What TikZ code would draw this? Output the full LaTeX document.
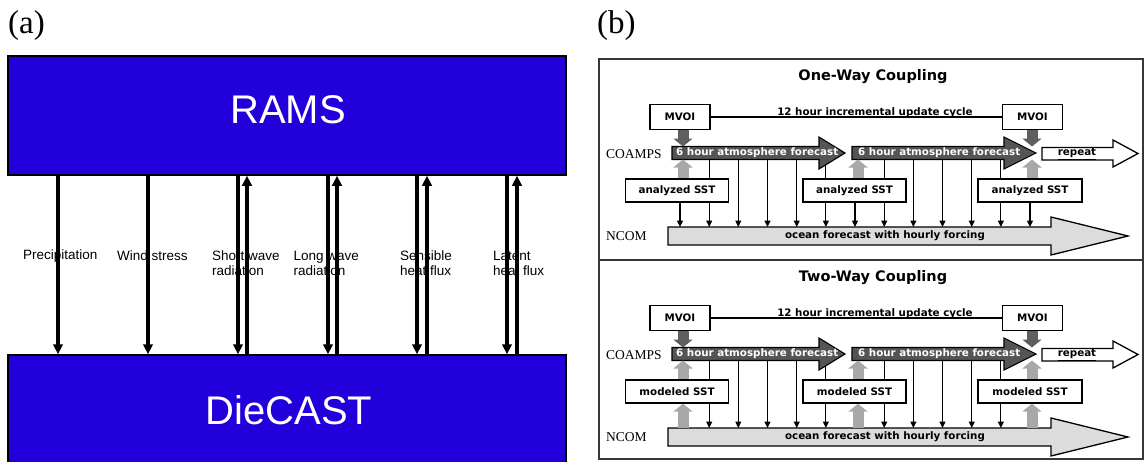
\documentclass[tikz,border=0pt]{standalone}
\usepackage{fontspec}
\setmainfont{Liberation Serif}
\newfontfamily\arialf{Liberation Sans}
\newfontfamily\verdf{DejaVu Sans}
\usetikzlibrary{arrows.meta}
\pgfdeclarelayer{bg}
\pgfsetlayers{bg,main}
\definecolor{ramsblue}{RGB}{34,0,220}
\definecolor{fcdark}{RGB}{85,85,85}
\definecolor{mvoidark}{RGB}{95,95,95}
\definecolor{sstlight}{RGB}{168,168,168}
\definecolor{ncomfill}{RGB}{220,220,220}
\definecolor{framegray}{RGB}{55,55,55}
\tikzset{
  bigbox/.style={draw=black, line width=1.5pt, fill=ramsblue, inner sep=0},
  bigtext/.style={text=white, font=\arialf\fontsize{40}{48}\selectfont, inner sep=0},
  fluxlbl/.style={font=\arialf\fontsize{13.5}{15}\selectfont, align=left, anchor=west, inner sep=0},
  flux/.style={line width=3.2pt, -{Triangle[length=10pt,width=9.5pt]}},
  panellbl/.style={font=\fontsize{33}{38}\selectfont, anchor=base west, inner sep=0},
  frame/.style={draw=framegray, line width=1.6pt},
  ctitle/.style={font=\verdf\bfseries\fontsize{14.5}{17}\selectfont, inner sep=0},
  wbox/.style={draw=black, line width=1.3pt, fill=white, font=\verdf\bfseries\fontsize{10.3}{12}\selectfont, inner sep=0},
  btext/.style={font=\verdf\bfseries\fontsize{10.3}{12}\selectfont, inner sep=0},
  side/.style={font=\fontsize{13.5}{16}\selectfont, anchor=west, inner sep=0},
  fcarrow/.style={draw=black, line width=1.1pt, fill=fcdark, line join=miter},
  ncarrow/.style={draw=black, line width=1.3pt, fill=ncomfill, line join=miter},
  reparrow/.style={draw=black, line width=1.3pt, fill=white, line join=miter},
  thinarrow/.style={line width=1.1pt, -{Triangle[length=6.5pt,width=6pt]}},
  thinline/.style={line width=1.1pt},
  mvarrow/.style={draw=mvoidark, line width=11pt, -{Triangle[length=8pt,width=19pt]}},
  sstarrow/.style={draw=sstlight, line width=11pt, -{Triangle[length=8pt,width=19pt]}},
}
\newcommand\cpanel[5]{%
\begin{scope}[shift={(0,#1)}]
  \coordinate (#2fctop) at (0,146.5);
  \coordinate (#2fcbot) at (0,159.5);
  \coordinate (#2nctop) at (0,227);
  \node[ctitle] (#2title) at (873,77) {#3};
  % forecast arrows
  \draw[fcarrow] (672,146.5) -- (819,146.5) -- (819,137) -- (845,153) -- (819,169) -- (819,159.5) -- (672,159.5) -- cycle;
  \draw[fcarrow] (852,146.5) -- (1004,146.5) -- (1004,137) -- (1036,153) -- (1004,169) -- (1004,159.5) -- (852,159.5) -- cycle;
  \draw[reparrow] (1042,147.5) -- (1113,147.5) -- (1113,140) -- (1138,153.5) -- (1113,167) -- (1113,160) -- (1042,160) -- cycle;
  \draw[ncarrow] (668,227) -- (1051,227) -- (1051,217) -- (1128,236) -- (1051,255) -- (1051,245) -- (668,245) -- cycle;
  % boxes
  \node[wbox, minimum width=60pt, minimum height=25pt] (#2mvoiL) at (680,117) {MVOI};
  \node[wbox, minimum width=60pt, minimum height=25pt] (#2mvoiR) at (1032.5,117) {MVOI};
  \node[wbox, minimum width=103pt, minimum height=23pt] (#2sstA) at (677,190.5) {#4};
  \node[wbox, minimum width=103pt, minimum height=23pt] (#2sstB) at (854.5,190.5) {#4};
  \node[wbox, minimum width=104pt, minimum height=23pt] (#2sstC) at (1030,190.5) {#4};
  % thin forcing arrows
  \begin{pgfonlayer}{bg}
    \foreach \x in {709.2,738.3,767.5,796.7,825.9,884.2,913.4,942.5,971.7,1000.9}
      \draw[thinarrow] (\x,0 |- #2fcbot) -- (\x,0 |- #2nctop);
    \ifnum#5=0
      \draw[thinarrow] (680,0 |- #2sstA.south) -- (680,0 |- #2nctop);
      \draw[thinarrow] (855,0 |- #2sstB.south) -- (855,0 |- #2nctop);
      \draw[thinarrow] (1030,0 |- #2sstC.south) -- (1030,0 |- #2nctop);
    \fi
  \end{pgfonlayer}
  \draw[thinline] (#2mvoiL.east) -- (#2mvoiR.west);
  % block arrows
  \draw[mvarrow] (683,0 |- #2mvoiL.south) -- (683,0 |- #2fctop);
  \draw[mvarrow] (1032,0 |- #2mvoiR.south) -- (1032,0 |- #2fctop);
  \draw[sstarrow] (683,0 |- #2sstA.north) -- (683,0 |- #2fcbot);
  \draw[sstarrow] (858,0 |- #2sstB.north) -- (858,0 |- #2fcbot);
  \draw[sstarrow] (1032,0 |- #2sstC.north) -- (1032,0 |- #2fcbot);
  \ifnum#5=1
    \draw[sstarrow] (683,0 |- #2nctop) -- (683,0 |- #2sstA.south);
    \draw[sstarrow] (858,0 |- #2nctop) -- (858,0 |- #2sstB.south);
    \draw[sstarrow] (1032,0 |- #2nctop) -- (1032,0 |- #2sstC.south);
  \fi
  % texts
  \node[btext, anchor=base] (#2upd) at (875,115) {12 hour incremental update cycle};
  \node[btext, text=white, anchor=west] (#2fcA) at (676,153) {6 hour atmosphere forecast};
  \node[btext, text=white, anchor=west] (#2fcB) at (858,153) {6 hour atmosphere forecast};
  \node[btext] (#2rep) at (1077,154) {\underline{repeat}};
  \node[btext] (#2oc) at (885,236) {ocean forecast with hourly forcing};
  \node[side] (#2coamps) at (606,154) {COAMPS};
  \node[side] (#2ncom) at (606,236) {NCOM};
\end{scope}}
\begin{document}
\begin{tikzpicture}[x=1pt,y=-1pt]
\useasboundingbox (0,0) rectangle (1144,461);
% ---------- panel (a)
\node[panellbl] (la) at (8,33) {(a)};
\node[bigbox, minimum width=558pt, minimum height=119pt] (rams) at (287,115.5) {};
\node[bigbox, minimum width=558pt, minimum height=112pt] (die) at (287,411) {};
\node[bigtext] (ramst) at (288,110) {RAMS};
\node[bigtext] (diet) at (289,410) {DieCAST};
\node[fluxlbl] (l1) at (23,256) {Precipitation};
\node[fluxlbl] (l2) at (117,256) {Wind stress};
\node[fluxlbl] (l3) at (212,263.5) {Short wave\\radiation};
\node[fluxlbl] (l4) at (293.5,263.5) {Long wave\\radiation};
\node[fluxlbl] (l5) at (400,263.5) {Sensible\\heat flux};
\node[fluxlbl] (l6) at (493,263.5) {Latent\\heat flux};
\foreach \x in {58,148,238,328,417,507}
  \draw[flux] (\x,0 |- rams.south) -- (\x,0 |- die.north);
\foreach \x in {247,337,427,517}
  \draw[flux] (\x,0 |- die.north) -- (\x,0 |- rams.south);
% ---------- panel (b)
\node[panellbl] (lb) at (597,33) {(b)};
\draw[frame] (599,59) rectangle (1143,459);
\draw[frame] (599,260) -- (1143,260);
\cpanel{0}{o}{One-Way Coupling}{analyzed SST}{0}
\cpanel{201}{t}{Two-Way Coupling}{modeled SST}{1}
\end{tikzpicture}
\end{document}
